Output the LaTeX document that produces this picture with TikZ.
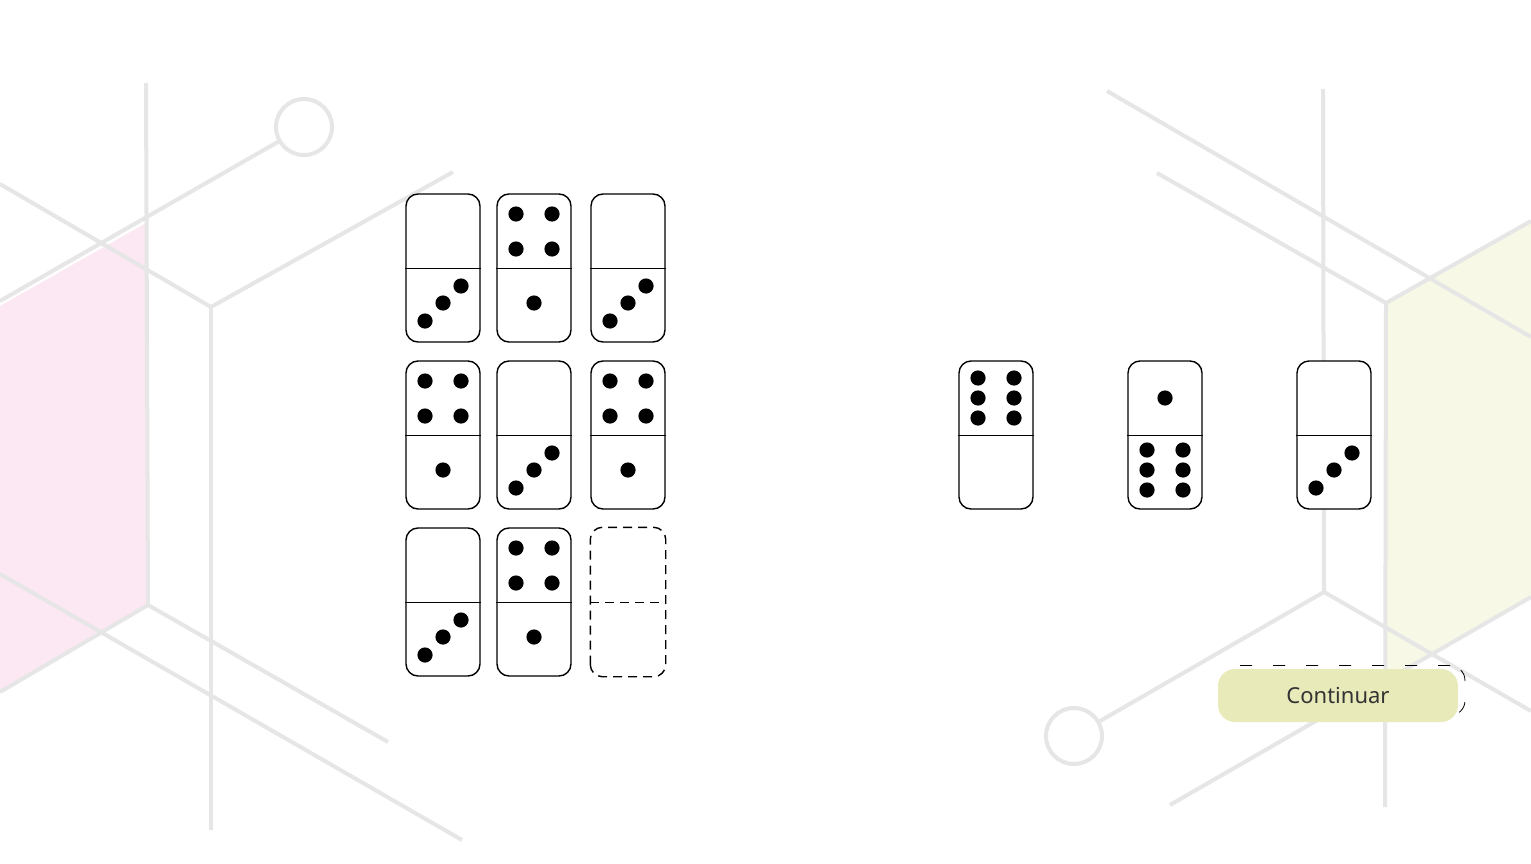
\documentclass[tikz,border=0pt]{standalone}
\usepackage{fontspec}
\usetikzlibrary{calc}
\newfontfamily\btnfont{Noto Sans}
\definecolor{webc}{HTML}{E6E6E6}
\definecolor{hexpink}{HTML}{FCE8F3}
\definecolor{hexlime}{HTML}{F7F9E6}
\definecolor{btnfill}{HTML}{E8EAB9}
\definecolor{btntext}{HTML}{333333}

\tikzset{
  domino/.style={draw=black, line width=1.4pt, fill=white, rounded corners=12pt,
    minimum width=74pt, minimum height=148pt, inner sep=0pt},
  halfline/.style={line width=0.9pt},
  pip/.style={fill=black},
  web/.style={draw=webc, line width=4pt},
  btn/.style={fill=btnfill, rounded corners=17pt, minimum width=240pt,
    minimum height=53pt, inner sep=0pt, text=btntext,
    font=\btnfont\fontsize{22}{26}\selectfont},
  ring/.style={draw=black, line width=0.8pt, dash pattern=on 12pt off 21pt,
    rounded corners=15pt, minimum width=239pt, minimum height=50pt, inner sep=0pt}
}

% pip patterns, offsets from the centre of a domino
\newcommand\pipsone[2]{\fill[pip] ($(#1)+(0,#2)$) circle (7.6pt);}
\newcommand\pipsthree[1]{%
  \foreach \dx/\dy in {-18/53,0/35,18/18}
    \fill[pip] ($(#1)+(\dx,\dy)$) circle (7.6pt);}
\newcommand\pipsfour[1]{%
  \foreach \dx/\dy in {-18/-54,18/-54,-18/-19,18/-19}
    \fill[pip] ($(#1)+(\dx,\dy)$) circle (7.6pt);}
\newcommand\pipssix[2]{%
  \foreach \dx in {-18,18}
    \foreach \dy in {-20,0,20}
      \fill[pip] ($(#1)+(\dx,#2+\dy)$) circle (7.6pt);}

\begin{document}
\begin{tikzpicture}[x=1pt, y=-1pt]
  \useasboundingbox (0,0) rectangle (1531,864);
  \fill[white] (0,0) rectangle (1531,864);

  % background web
  \fill[hexpink] (0,306) -- (146,223) -- (146,605) -- (0,692) -- cycle;
  \fill[hexlime] (1386,303) -- (1531,221) -- (1531,597) -- (1386,681) -- cycle;
  \draw[web] (146,83) -- (148,605);
  \draw[web] (0,692) -- (148,605) -- (388,742);
  \draw[web] (0,184) -- (211,307) -- (453,172);
  \draw[web] (211,307) -- (211,830);
  \draw[web] (0,301) -- (279.5,141);
  \draw[web] (304,127) circle (28pt);
  \draw[web] (0,574) -- (462,840);
  \draw[web] (1107,91) -- (1531,337);
  \draw[web] (1157,173) -- (1386,303) -- (1531,221);
  \draw[web] (1323,89) -- (1324,592);
  \draw[web] (1386,303) -- (1385,807);
  \draw[web] (1098.3,722) -- (1324,592) -- (1531,711);
  \draw[web] (1074,736) circle (28pt);
  \draw[web] (1170,805) -- (1531,597);

  % grid of dominoes
  \node[domino] (a1) at (443,268) {};
  \node[domino] (a2) at (534,268) {};
  \node[domino] (a3) at (628,268) {};
  \node[domino] (b1) at (443,435) {};
  \node[domino] (b2) at (534,435) {};
  \node[domino] (b3) at (628,435) {};
  \node[domino] (c1) at (443,602) {};
  \node[domino] (c2) at (534,602) {};
  \node[domino, draw=none, fill=none] (c3) at (628,602) {};
  \draw[domino, dash pattern=on 9pt off 6pt] (c3.south west) rectangle (c3.north east);
  \foreach \d in {a1,a2,a3,b1,b2,b3,c1,c2}
    \draw[halfline] (\d.west) -- (\d.east);
  \draw[halfline, dash pattern=on 9pt off 6pt] (c3.west) -- (c3.east);
  \pipsthree{a1}
  \pipsfour{a2} \pipsone{a2}{35}
  \pipsthree{a3}
  \pipsfour{b1} \pipsone{b1}{35}
  \pipsthree{b2}
  \pipsfour{b3} \pipsone{b3}{35}
  \pipsthree{c1}
  \pipsfour{c2} \pipsone{c2}{35}

  % answer choices
  \node[domino] (r1) at (996,435) {};
  \node[domino] (r2) at (1165,435) {};
  \node[domino] (r3) at (1334,435) {};
  \foreach \d in {r1,r2,r3}
    \draw[halfline] (\d.west) -- (\d.east);
  \pipssix{r1}{-37}
  \pipsone{r2}{-37} \pipssix{r2}{35}
  \pipsthree{r3}

  % button
  \node[ring] (focus) at (1345.5,690.5) {};
  \node[btn] (cont) at (1338,695.5) {Continuar};
\end{tikzpicture}
\end{document}
